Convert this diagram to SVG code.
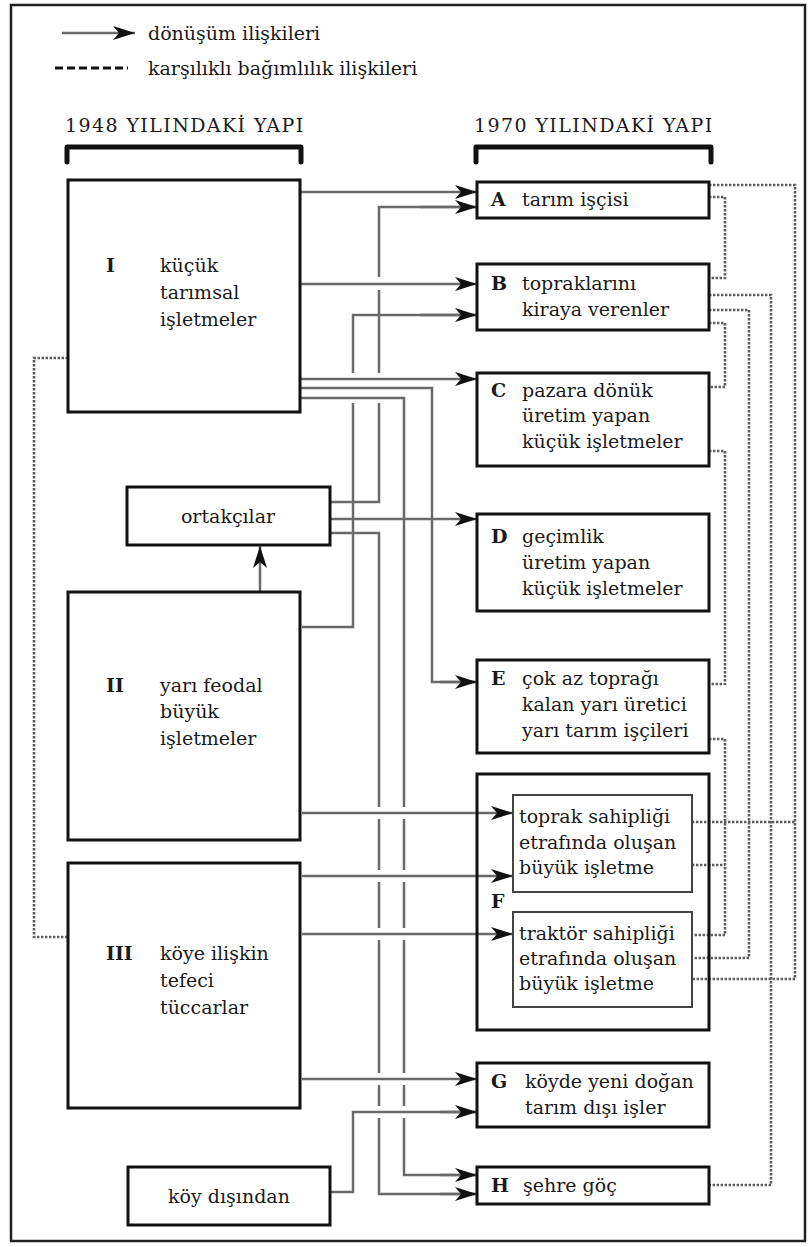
<svg xmlns="http://www.w3.org/2000/svg" width="808" height="1247" viewBox="0 0 808 1247">
<style>
.box{fill:#fff;stroke:#111;stroke-width:3}
.obox{fill:none;stroke:#111;stroke-width:3}
.ibox{fill:#fff;stroke:#444;stroke-width:2}
.t{font-family:"DejaVu Serif","Liberation Serif",serif;font-size:19px;fill:#1a1a1a}
.b{font-weight:bold}
.hd{font-family:"DejaVu Serif","Liberation Serif",serif;font-size:19px;fill:#1a1a1a;letter-spacing:1.4px}
.c{fill:none;stroke:#6a6a6a;stroke-width:2.5}
.ca{fill:none;stroke:#6a6a6a;stroke-width:2.5;marker-end:url(#ah)}
.d{fill:none;stroke:#5e5e5e;stroke-width:2.6;stroke-dasharray:2.4 1.6}
.br{fill:none;stroke:#111;stroke-width:5;stroke-linecap:round;stroke-linejoin:round}
</style>
<defs>
<marker id="ah" markerUnits="userSpaceOnUse" markerWidth="24" markerHeight="14" refX="22" refY="7" orient="auto">
<path d="M0,0 L22,7 L0,14 L6,7 z" fill="#111"/>
</marker>
</defs>
<rect x="0" y="0" width="808" height="1247" fill="#fff"/>
<rect x="11" y="5" width="794" height="1236" fill="none" stroke="#222" stroke-width="2.5"/>

<g id="legend">
<line x1="62" y1="33" x2="135" y2="33" class="ca"/>
<text x="148" y="40" class="t">dönüşüm ilişkileri</text>
<line x1="55" y1="68" x2="128" y2="68" stroke="#111" stroke-width="3" stroke-dasharray="8 4"/>
<text x="148" y="75" class="t">karşılıklı bağımlılık ilişkileri</text>
</g>

<g id="header1948">
<text x="65" y="132" class="hd">1948 YILINDAKİ YAPI</text>
<path d="M67,162 V147 H301 V162" class="br"/>
</g>
<g id="header1970">
<text x="474" y="132" class="hd">1970 YILINDAKİ YAPI</text>
<path d="M476,162 V147 H711 V162" class="br"/>
</g>

<g id="connectors">
<path d="M300,192 H477" class="ca"/>
<path d="M330,502 H379 V403 M379,373 V290 M379,277 V207 H477" class="c"/>
<path d="M420,207 H477" class="ca"/>
<path d="M300,284 H477" class="ca"/>
<path d="M302,627 H353 V403 M353,373 V315 H477" class="c"/>
<path d="M420,315 H477" class="ca"/>
<path d="M300,379 H477" class="ca"/>
<path d="M300,388 H432 V682 H477" class="c"/>
<path d="M440,682 H477" class="ca"/>
<path d="M300,398 H404 V807 M404,819 V870 M404,882 V928 M404,940 V1073 M404,1085 V1106 M404,1118 V1175 H477" class="c"/>
<path d="M440,1175 H477" class="ca"/>
<path d="M330,519 H477" class="ca"/>
<path d="M330,533 H379 V807 M379,819 V870 M379,882 V928 M379,940 V1073 M379,1085 V1106 M379,1118 V1194 H477" class="c"/>
<path d="M440,1194 H477" class="ca"/>
<path d="M302,813 H513" class="ca"/>
<path d="M302,876 H513" class="ca"/>
<path d="M302,934 H513" class="ca"/>
<path d="M302,1079 H477" class="ca"/>
<path d="M330,1192 H353 V1112 H477" class="c"/>
<path d="M440,1112 H477" class="ca"/>
<path d="M260,592 V546" class="ca"/>
<path d="M709,185 H795 V979 H692" class="d"/>
<path d="M692,822 H795" class="d"/>
<path d="M709,197 H725 V278 H709" class="d"/>
<path d="M709,295 H771 V1185 H709" class="d"/>
<path d="M709,310 H749 V958 H692" class="d"/>
<path d="M709,323 H725 V387 H709" class="d"/>
<path d="M709,451 H725 V684 H709" class="d"/>
<path d="M709,739 H725 V935 H692" class="d"/>
<path d="M692,865 H725" class="d"/>
<path d="M68,358 H34 V937 H68" class="d"/>
</g>

<g id="nodeI">
<rect x="68" y="180" width="232" height="232" class="box"/>
<text x="106" y="272" class="t b">I</text>
<text x="160" y="272" class="t">küçük</text>
<text x="160" y="299" class="t">tarımsal</text>
<text x="160" y="326" class="t">işletmeler</text>
</g>
<g id="nodeOrtakcilar">
<rect x="127" y="487" width="203" height="58" class="box"/>
<text x="228" y="523" class="t" text-anchor="middle">ortakçılar</text>
</g>
<g id="nodeII">
<rect x="68" y="592" width="232" height="248" class="box"/>
<text x="106" y="692" class="t b">II</text>
<text x="160" y="692" class="t">yarı feodal</text>
<text x="160" y="718" class="t">büyük</text>
<text x="160" y="745" class="t">işletmeler</text>
</g>
<g id="nodeIII">
<rect x="68" y="863" width="232" height="245" class="box"/>
<text x="106" y="960" class="t b">III</text>
<text x="160" y="960" class="t">köye ilişkin</text>
<text x="160" y="987" class="t">tefeci</text>
<text x="160" y="1014" class="t">tüccarlar</text>
</g>
<g id="nodeKoyDisindan">
<rect x="128" y="1167" width="202" height="58" class="box"/>
<text x="229" y="1203" class="t" text-anchor="middle">köy dışından</text>
</g>

<g id="nodeA">
<rect x="477" y="182" width="232" height="36" class="box"/>
<text x="491" y="206" class="t b">A</text>
<text x="522" y="206" class="t">tarım işçisi</text>
</g>
<g id="nodeB">
<rect x="477" y="264" width="232" height="66" class="box"/>
<text x="491" y="290" class="t b">B</text>
<text x="522" y="290" class="t">topraklarını</text>
<text x="522" y="316" class="t">kiraya verenler</text>
</g>
<g id="nodeC">
<rect x="477" y="373" width="232" height="93" class="box"/>
<text x="491" y="397" class="t b">C</text>
<text x="522" y="397" class="t">pazara dönük</text>
<text x="522" y="422" class="t">üretim yapan</text>
<text x="522" y="448" class="t">küçük işletmeler</text>
</g>
<g id="nodeD">
<rect x="477" y="514" width="232" height="97" class="box"/>
<text x="491" y="543" class="t b">D</text>
<text x="522" y="543" class="t">geçimlik</text>
<text x="522" y="569" class="t">üretim yapan</text>
<text x="522" y="595" class="t">küçük işletmeler</text>
</g>
<g id="nodeE">
<rect x="477" y="660" width="232" height="93" class="box"/>
<text x="491" y="685" class="t b">E</text>
<text x="522" y="685" class="t">çok az toprağı</text>
<text x="522" y="711" class="t">kalan yarı üretici</text>
<text x="522" y="737" class="t">yarı tarım işçileri</text>
</g>
<g id="nodeF">
<rect x="477" y="774" width="232" height="256" class="obox"/>
<text x="491" y="908" class="t b">F</text>
<g id="nodeF1">
<rect x="513" y="795" width="179" height="97" class="ibox"/>
<text x="519" y="823" class="t">toprak sahipliği</text>
<text x="519" y="849" class="t">etrafında oluşan</text>
<text x="519" y="874" class="t">büyük işletme</text>
</g>
<g id="nodeF2">
<rect x="513" y="912" width="179" height="95" class="ibox"/>
<text x="519" y="940" class="t">traktör sahipliği</text>
<text x="519" y="965" class="t">etrafında oluşan</text>
<text x="519" y="990" class="t">büyük işletme</text>
</g>
</g>
<g id="nodeG">
<rect x="477" y="1063" width="232" height="64" class="box"/>
<text x="491" y="1088" class="t b">G</text>
<text x="525" y="1088" class="t">köyde yeni doğan</text>
<text x="525" y="1114" class="t">tarım dışı işler</text>
</g>
<g id="nodeH">
<rect x="477" y="1167" width="232" height="37" class="box"/>
<text x="491" y="1192" class="t b">H</text>
<text x="523" y="1192" class="t">şehre göç</text>
</g>
</svg>
